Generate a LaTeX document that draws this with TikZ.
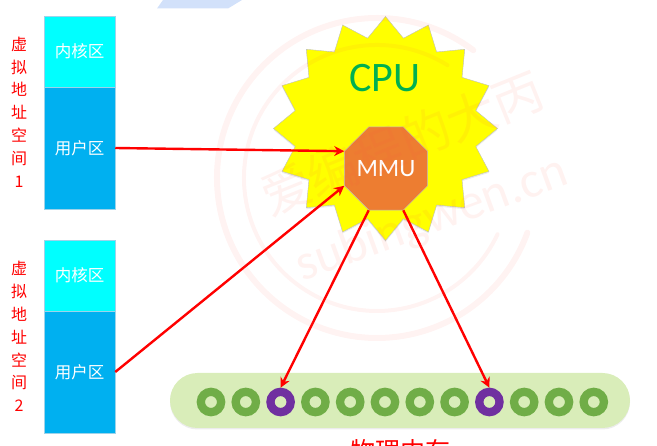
\documentclass[tikz,border=0pt]{standalone}
\usepackage{fontspec}
\setmainfont{Carlito}
\newfontfamily\cjk{Noto Sans CJK SC}
\usetikzlibrary{shapes.geometric,arrows.meta,shadows}
\definecolor{kernelc}{HTML}{00FFFF}
\definecolor{userc}{HTML}{00B0F0}
\definecolor{edgec}{HTML}{9DD3EA}
\definecolor{sunc}{HTML}{FFFF00}
\definecolor{orangec}{HTML}{ED7D31}
\definecolor{greenc}{HTML}{00B050}
\definecolor{pillc}{HTML}{D9EDB9}
\definecolor{ringc}{HTML}{70AD47}
\definecolor{purplec}{HTML}{7030A0}
\definecolor{topc}{HTML}{D2E1FA}
\definecolor{wmc}{HTML}{FF5544}
\definecolor{redc}{HTML}{FF0000}
\tikzset{
  softshadow/.style={drop shadow={opacity=.15,shadow xshift=0pt,shadow yshift=-1.5pt}},
  memblock/.style={rectangle,draw=edgec,line width=.5pt,minimum width=71pt,inner sep=0pt,text=white,
    font=\cjk\fontsize{16.5}{20}\selectfont,softshadow},
  kernelbox/.style={memblock,fill=kernelc,minimum height=71pt},
  userbox/.style={memblock,fill=userc,minimum height=122pt},
  vlabel/.style={align=center,text=redc,inner sep=0pt,font=\cjk\fontsize{16}{22.8}\selectfont},
  link/.style={draw=redc,line width=2.4pt,-{Stealth[length=10pt,width=10pt]}},
  cell/.style={circle,draw=#1,line width=8.3pt,minimum size=20.3pt,inner sep=0pt,fill=none},
  wmring/.style={draw=wmc,opacity=.07,line cap=round},
  wmtext/.style={text=wmc,text opacity=.08,inner sep=0pt}
}
\begin{document}
\begin{tikzpicture}[x=1pt,y=-1pt]
\clip (0,0) rectangle (657,446);
% top sliver
\fill[topc] (157,8.5) -- (163,0) -- (242,0) -- (228,8.5) -- cycle;
% address spaces
\node[kernelbox] (k1) at (79.5,51.5) {内核区};
\node[userbox] (u1) at (79.5,148) {用户区};
\node[kernelbox] (k2) at (79.5,275.5) {内核区};
\node[userbox] (u2) at (79.5,372) {用户区};
\node[vlabel] (l1) at (19,112) {虚\\拟\\地\\址\\空\\间\\1};
\node[vlabel] (l2) at (19,336.5) {虚\\拟\\地\\址\\空\\间\\2};
% cpu
\node[star,star points=16,star point ratio=1.217,minimum size=224pt,inner sep=0pt,
  fill=sunc,draw=black!25,line width=.4pt,softshadow] (cpu) at (385.5,128.5) {};
\node[text=greenc,inner sep=0pt,font=\fontsize{42}{42}\selectfont] (cpulabel) at (385,78) {CPU};
\node[regular polygon,regular polygon sides=8,minimum size=88.8pt,inner sep=0pt,
  fill=orangec,draw=black!25,line width=.4pt,text=white,font=\fontsize{25}{25}\selectfont] (mmu) at (386,168.5) {MMU};
% memory
\node[rectangle,rounded corners=27.5pt,minimum width=460pt,minimum height=55pt,inner sep=0pt,
  fill=pillc,draw=none,softshadow] (mem) at (400,400.5) {};
\foreach \i/\c in {1/ringc,2/ringc,3/purplec,4/ringc,5/ringc,6/ringc,7/ringc,8/ringc,9/purplec,10/ringc,11/ringc,12/ringc}{
  \node[cell=\c] (m\i) at ({211+(\i-1)*34.8},402) {};
}
\node[text=redc,inner sep=0pt,font=\cjk\fontsize{25}{25}\selectfont] (memlabel) at (400,451) {物理内存};
% connectors
\draw[link] (u1.east) -- (mmu.corner 3);
\draw[link] (u2.east) -- (mmu.corner 4);
\draw[link] (mmu.corner 5) -- (m3.north);
\draw[link] (mmu.corner 6) -- (m9.north);
% watermark
\draw[wmring,line width=6pt] (377,178) ++(53:160pt) arc[start angle=53,end angle=340,radius=160pt];
\draw[wmring,line width=4pt] (377,178) ++(58:133pt) arc[start angle=58,end angle=335,radius=133pt];
\node[wmtext,rotate=22,font=\cjk\fontsize{50}{50}\selectfont] (wm1) at (402,143) {爱编程的大丙};
\node[wmtext,rotate=20,font=\fontsize{51}{51}\selectfont] (wm2) at (432,220) {subingwen.cn};
\end{tikzpicture}
\end{document}
